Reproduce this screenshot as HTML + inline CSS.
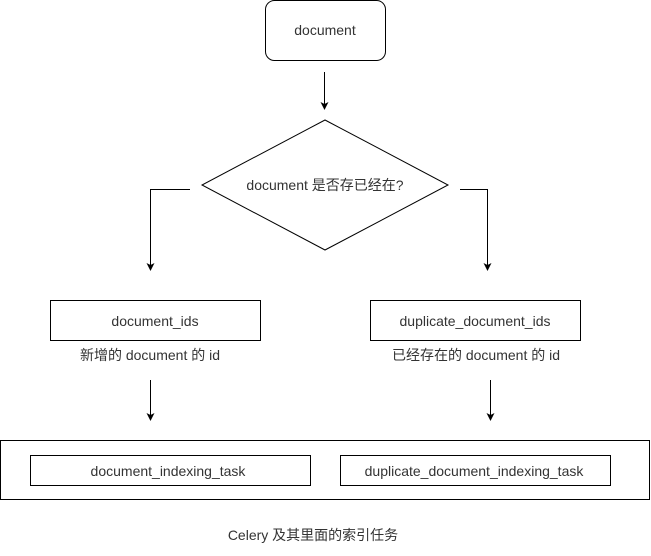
<!DOCTYPE html>
<html><head><meta charset="utf-8"><style>
body{margin:0;background:#fff;width:651px;height:551px;overflow:hidden}
text{font-family:"Liberation Sans","Noto Sans CJK SC",sans-serif;font-size:14px;fill:#333}
</style></head><body>
<svg width="651" height="551" xmlns="http://www.w3.org/2000/svg">
<defs><marker id="a" markerWidth="8" markerHeight="8" refX="7" refY="4" orient="auto" markerUnits="userSpaceOnUse"><path d="M0,0 L8,4 L0,8 L2,4 z" fill="#000"/></marker></defs>
<g stroke="#000" fill="none" stroke-width="1">
<rect x="265.5" y="0.5" width="120" height="60" rx="9"/>
<line x1="324.5" y1="72" x2="324.5" y2="109" marker-end="url(#a)"/>
<polygon points="325,120 448,185 325,250 202,185" fill="#fff"/>
<polyline points="190,189.5 150.5,189.5 150.5,270" marker-end="url(#a)"/>
<polyline points="460,189.5 487.5,189.5 487.5,270" marker-end="url(#a)"/>
<rect x="50.5" y="300.5" width="210" height="40"/>
<rect x="370.5" y="300.5" width="210" height="40"/>
<line x1="150.5" y1="380" x2="150.5" y2="420" marker-end="url(#a)"/>
<line x1="490.5" y1="380" x2="490.5" y2="420" marker-end="url(#a)"/>
<rect x="0.5" y="440.5" width="649" height="59"/>
<rect x="30.5" y="455.5" width="280" height="30"/>
<rect x="340.5" y="455.5" width="270" height="30"/>
</g>
<g text-anchor="middle">
<text x="325" y="35">document</text>
<text x="325" y="190">document 是否存已经在?</text>
<text x="155" y="326">document_ids</text>
<text x="475" y="326">duplicate_document_ids</text>
<text x="150" y="360">新增的 document 的 id</text>
<text x="476" y="360">已经存在的 document 的 id</text>
<text x="168" y="476">document_indexing_task</text>
<text x="474" y="476">duplicate_document_indexing_task</text>
<text x="313" y="540">Celery 及其里面的索引任务</text>
</g>
</svg>
</body></html>
